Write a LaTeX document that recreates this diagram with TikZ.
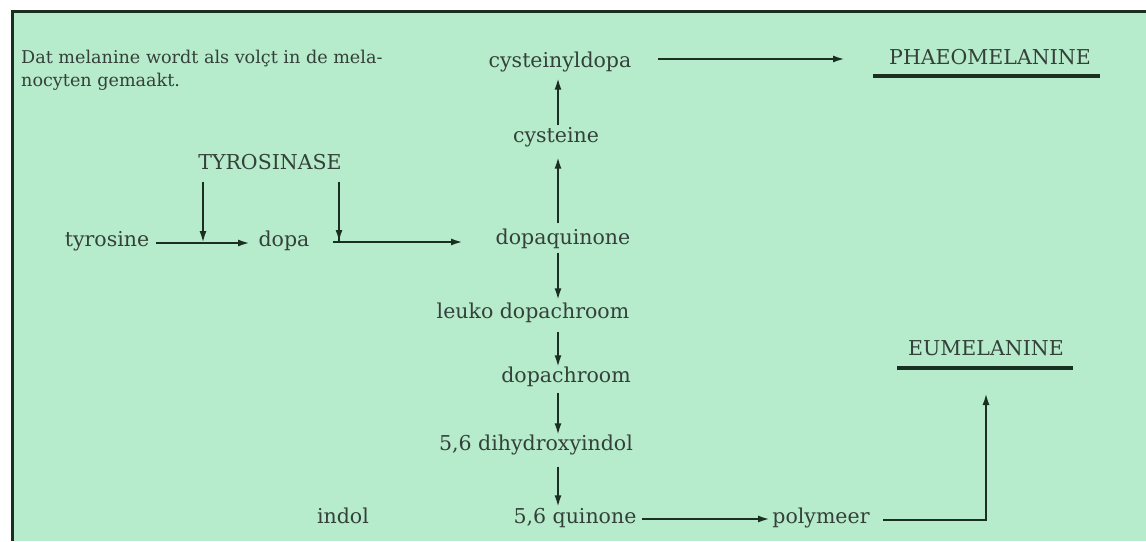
\documentclass[tikz,border=0pt]{standalone}
\usepackage{fontspec}
\setmainfont{DejaVu Serif}
\usetikzlibrary{arrows.meta}
\definecolor{bg}{HTML}{B6EBCB}
\definecolor{ink}{HTML}{1A2E22}
\definecolor{txt}{HTML}{34403A}
\begin{document}
\begin{tikzpicture}[x=1pt,y=-1pt,
  lbl/.style={text=txt,font=\fontsize{20.5}{22}\selectfont,inner sep=0pt,
    text height=15pt,text depth=4pt,anchor=center},
  capt/.style={text=txt,font=\fontsize{17.6}{23}\selectfont,inner sep=0pt,
    align=left,anchor=north west},
  conn/.style={draw=ink,line width=2.2pt,-{Latex[length=12pt,width=7pt]}},
  plain/.style={draw=ink,line width=2.2pt},
  rule/.style={draw=ink,line width=3.2pt}]
\useasboundingbox (0,0) rectangle (1146,541);
\fill[white] (0,0) rectangle (1146,541);
\fill[bg] (12,11) rectangle (1146,541);
\draw[ink,line width=3pt] (12,541) -- (12,11) -- (1146,11);

% texts
\node[capt] (cap) at (21,50) {Dat melanine wordt als volçt in de mela-\\nocyten gemaakt.};
\node[lbl] (tyr) at (270,164) {TYROSINASE};
\node[lbl] (tyrosine) at (107,241) {tyrosine};
\node[lbl] (dopa) at (284,241) {dopa};
\node[lbl] (dq) at (563,239) {dopaquinone};
\node[lbl] (cyd) at (560,62) {cysteinyldopa};
\node[lbl] (cys) at (556,137) {cysteine};
\node[lbl] (leuko) at (533,313) {leuko dopachroom};
\node[lbl] (dc) at (566,377) {dopachroom};
\node[lbl] (dhi) at (536,445) {5,6 dihydroxyindol};
\node[lbl] (q) at (575,518) {5,6 quinone};
\node[lbl] (indol) at (343,518) {indol};
\node[lbl] (poly) at (821,518) {polymeer};
\node[lbl] (phaeo) at (990,59) {PHAEOMELANINE};
\node[lbl] (eu) at (986,350) {EUMELANINE};

% underlines
\draw[rule] (873,76) -- (1100,76);
\draw[rule] (897,368) -- (1073,368);

% helper coordinates
\coordinate (ax) at (558,0);
\coordinate (j1) at (203,243);
\coordinate (j2) at (339,242);
\coordinate (k1) at (986,520);

% horizontal pathway
\draw[conn] (156,243) -- (250,243);
\draw[conn] (333,242) -- (463,242);
\draw[conn] (tyr.south -| j1) ++(0,8) -- (j1);
\draw[plain] (tyr.south -| j2) ++(0,8) -- (j2);
\draw[conn] (j2) ++(0,-12) -- (j2);

% vertical column
\draw[conn,shorten <=6pt,shorten >=10pt] (dq.north -| ax) -- (cys.south -| ax);
\draw[conn,shorten <=2pt,shorten >=6pt] (cys.north -| ax) -- (cyd.south -| ax);
\draw[conn,shorten <=4pt,shorten >=3pt] (dq.south -| ax) -- (leuko.north -| ax);
\draw[conn,shorten <=9pt,shorten >=0pt] (leuko.south -| ax) -- (dc.north -| ax);
\draw[conn,shorten <=6pt,shorten >=0pt] (dc.south -| ax) -- (dhi.north -| ax);
\draw[conn,shorten <=12pt,shorten >=1pt] (dhi.south -| ax) -- (q.north -| ax);

% to products
\draw[conn] (658,59) -- (845,59);
\draw[conn] (642,519) -- (770,519);
\draw[conn] (883,520) -- (k1) -- (986,393);
\end{tikzpicture}
\end{document}
